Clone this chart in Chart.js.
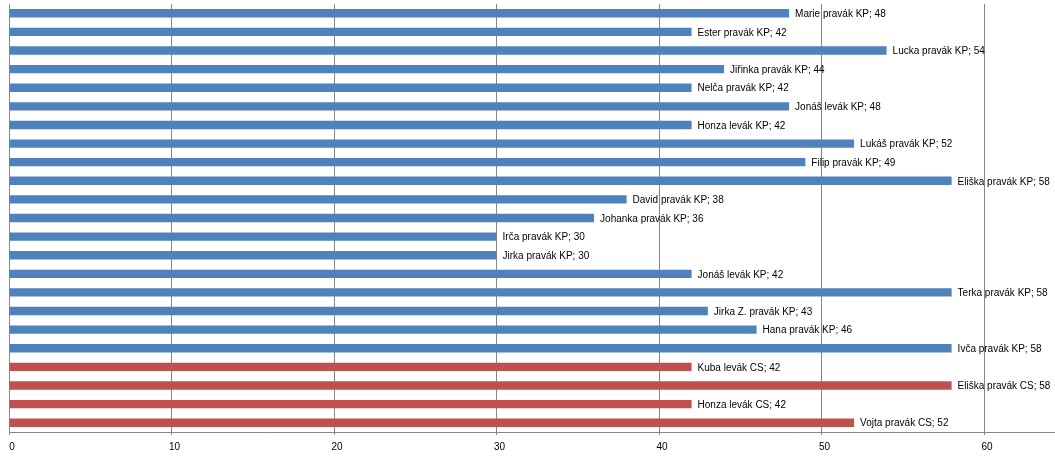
<!DOCTYPE html>
<html>
<head>
<meta charset="utf-8">
<script src="https://cdn.jsdelivr.net/npm/chart.js@4"></script>
<style>
    html, body { margin: 0; padding: 0; background: #fff; }
    #wrap { width: 1055px; height: 459px; }
</style>
</head>
<body>
<div id="wrap"><canvas id="zakyChart" width="1055" height="459"></canvas></div>
<script>
const jmena = [
    'Marie pravák KP', 'Ester pravák KP', 'Lucka pravák KP', 'Jiřinka pravák KP',
    'Nelča pravák KP', 'Jonáš levák KP', 'Honza levák KP', 'Lukáš pravák KP',
    'Filip pravák KP', 'Eliška pravák KP', 'David pravák KP', 'Johanka pravák KP',
    'Irča pravák KP', 'Jirka pravák KP', 'Jonáš levák KP', 'Terka pravák KP',
    'Jirka Z. pravák KP', 'Hana pravák KP', 'Ivča pravák KP',
    'Kuba levák CS', 'Eliška pravák CS', 'Honza levák CS', 'Vojta pravák CS'
];
const hodnoty = [48, 42, 54, 44, 42, 48, 42, 52, 49, 58, 38, 36, 30, 30, 42, 58, 43, 46, 58, 42, 58, 42, 52];
const skupiny = ['KP', 'KP', 'KP', 'KP', 'KP', 'KP', 'KP', 'KP', 'KP', 'KP', 'KP', 'KP',
    'KP', 'KP', 'KP', 'KP', 'KP', 'KP', 'KP', 'CS', 'CS', 'CS', 'CS'];
const osaX = [0, 10, 20, 30, 40, 50, 60];

const barvy = { KP: '#4F81BD', CS: '#C0504D' };
const FONT = '"Liberation Sans", Arial, sans-serif';

// popisky za koncem sloupce: "jmeno; hodnota"
const popisky = {
    id: 'popisky',
    afterDatasetsDraw(chart) {
        const ctx = chart.ctx;
        ctx.save();
        ctx.font = '10px ' + FONT;
        ctx.fillStyle = '#000';
        ctx.textBaseline = 'middle';
        chart.getDatasetMeta(0).data.forEach((bar, i) => {
            ctx.fillText(jmena[i] + '; ' + hodnoty[i], bar.x + 6, bar.y + 1);
        });
        ctx.restore();
    }
};

new Chart(document.getElementById('zakyChart'), {
    type: 'bar',
    data: {
        labels: jmena,
        datasets: [{
            data: hodnoty,
            backgroundColor: skupiny.map(s => barvy[s]),
            categoryPercentage: 1,
            barPercentage: 0.45
        }]
    },
    options: {
        indexAxis: 'y',
        responsive: false,
        animation: false,
        layout: { padding: { left: 9, right: 1, top: 4, bottom: 0 } },
        plugins: { legend: { display: false }, tooltip: { enabled: false } },
        scales: {
            x: {
                min: 0,
                max: 64.3,
                afterBuildTicks: axis => { axis.ticks = osaX.map(v => ({ value: v })); },
                ticks: { font: { family: FONT, size: 10 }, color: '#000', padding: 6, labelOffset: 3 },
                grid: { color: '#868686', tickLength: 3 },
                border: { color: '#868686' }
            },
            y: { display: false }
        }
    },
    plugins: [popisky]
});
</script>
</body>
</html>
